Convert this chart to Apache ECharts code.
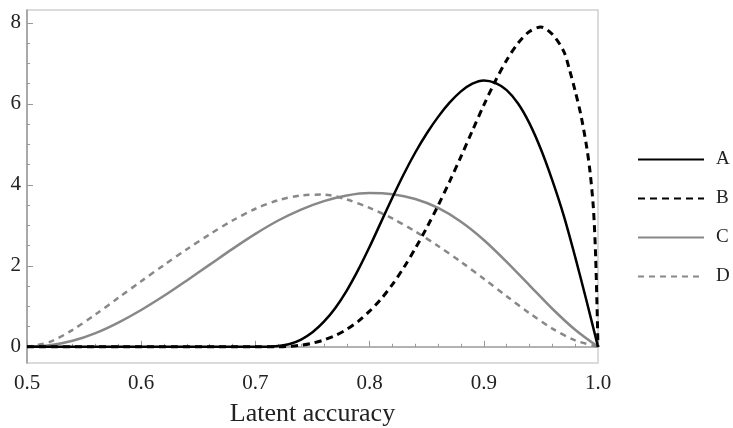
<!DOCTYPE html>
<html>
<head>
<meta charset="utf-8">
<script src="https://cdn.jsdelivr.net/npm/echarts@6/dist/echarts.min.js"></script>
<style>
  html, body { margin: 0; padding: 0; background: #fff; }
  #chartData { width: 733px; height: 428px; }
</style>
</head>
<body>
<div id="chartData"></div>
<script>
// 数据
var xA = [0.5, 0.6, 0.7, 0.71, 0.72, 0.73, 0.74, 0.75, 0.76, 0.77, 0.78, 0.79, 0.80, 0.81, 0.82, 0.83, 0.84, 0.85,
          0.86, 0.87, 0.88, 0.89, 0.90, 0.91, 0.92, 0.93, 0.94, 0.95, 0.96, 0.97, 0.98, 0.99, 1.0];
var yA = [0, 0, 0, 0, 0.02, 0.07, 0.18, 0.36, 0.62, 0.96, 1.39, 1.90, 2.47, 3.08, 3.69, 4.27, 4.80, 5.27,
          5.68, 6.03, 6.31, 6.50, 6.58, 6.52, 6.34, 6.01, 5.52, 4.88, 4.11, 3.24, 2.22, 1.13, 0];

var xB = [0.5, 0.6, 0.7, 0.72, 0.73, 0.74, 0.75, 0.76, 0.77, 0.78, 0.79, 0.80, 0.81, 0.82, 0.83, 0.84, 0.85,
          0.86, 0.87, 0.88, 0.89, 0.90, 0.91, 0.92, 0.93, 0.94, 0.95, 0.96, 0.97, 0.975, 0.98, 0.985, 0.99,
          0.993, 0.996, 0.998, 1.0];
var yB = [0, 0, 0, 0, 0.01, 0.04, 0.09, 0.17, 0.28, 0.43, 0.63, 0.88, 1.18, 1.54, 1.96, 2.43, 2.94,
          3.49, 4.08, 4.70, 5.34, 5.97, 6.56, 7.08, 7.50, 7.79, 7.90, 7.72, 7.30, 6.85, 6.32, 5.73, 4.95,
          4.33, 3.41, 2.18, 0];

var xCD = [0.50, 0.52, 0.54, 0.56, 0.58, 0.60, 0.62, 0.64, 0.66, 0.68, 0.70, 0.72, 0.74,
           0.76, 0.78, 0.80, 0.82, 0.84, 0.86, 0.88, 0.90, 0.92, 0.94, 0.96, 0.98, 1.00];
var yC = [0, 0.04, 0.15, 0.34, 0.60, 0.91, 1.26, 1.64, 2.03, 2.42, 2.79, 3.12, 3.39,
          3.60, 3.74, 3.80, 3.77, 3.65, 3.43, 3.09, 2.64, 2.10, 1.52, 0.94, 0.42, 0];
var yD = [0, 0.12, 0.42, 0.80, 1.21, 1.62, 2.02, 2.41, 2.78, 3.12, 3.41, 3.62, 3.74,
          3.76, 3.64, 3.43, 3.17, 2.85, 2.49, 2.10, 1.68, 1.25, 0.83, 0.45, 0.16, 0];

var names = ['A', 'B', 'C', 'D'];
var xMajor = [0.5, 0.6, 0.7, 0.8, 0.9, 1.0];
var xMinor = [0.52, 0.54, 0.56, 0.58, 0.62, 0.64, 0.66, 0.68, 0.72, 0.74, 0.76, 0.78,
              0.82, 0.84, 0.86, 0.88, 0.92, 0.94, 0.96, 0.98];
var yMajor = [0, 2, 4, 6, 8];
var yMinor = [0.5, 1, 1.5, 2.5, 3, 3.5, 4.5, 5, 5.5, 6.5, 7, 7.5];

function pairs(xs, ys) {
    var out = [];
    for (var i = 0; i < xs.length; i++) out.push([xs[i], ys[i]]);
    return out;
}

var font = '"Liberation Serif", "DejaVu Serif", serif';
var axisGray = '#999';

var myChart = echarts.init(document.getElementById('chartData'));

var option = {
    backgroundColor: '#fff',
    animation: false,
    grid: {
        left: 27, right: 135, top: 10, bottom: 65,
        containLabel: false, outerBoundsMode: 'none',
        show: true, borderColor: '#d0d0d0', borderWidth: 1.5
    },
    legend: {
        data: names,
        orient: 'vertical',
        left: 637, top: 150, padding: 0,
        itemWidth: 66, itemHeight: 14, itemGap: 20,
        itemStyle: { opacity: 0 },
        textStyle: { fontFamily: font, fontSize: 19, color: '#222', padding: [0, 0, 0, 7] }
    },
    xAxis: [{
        type: 'value', min: 0.5, max: 1.0,
        name: 'Latent accuracy', nameLocation: 'middle', nameGap: 38,
        nameTextStyle: { fontFamily: font, fontSize: 26, color: '#222' },
        axisLine: { lineStyle: { color: axisGray, width: 1.5 } },
        axisTick: { customValues: xMajor, inside: true, length: 6, lineStyle: { color: axisGray } },
        axisLabel: { customValues: xMajor, margin: 10, fontFamily: font, fontSize: 21, color: '#222',
                     formatter: function (v) { return v.toFixed(1); } },
        splitLine: { show: false }
    }, {
        type: 'value', min: 0.5, max: 1.0, position: 'bottom',
        axisLine: { show: false },
        axisTick: { customValues: xMinor, inside: true, length: 3, lineStyle: { color: axisGray } },
        axisLabel: { show: false },
        splitLine: { show: false }
    }],
    yAxis: [{
        type: 'value', min: -0.4, max: 8.32,
        axisLine: { show: true, lineStyle: { color: axisGray, width: 1.5 } },
        axisTick: { show: true, customValues: yMajor, inside: true, length: 6, lineStyle: { color: axisGray } },
        axisLabel: { customValues: yMajor, margin: 6, fontFamily: font, fontSize: 21, color: '#222' },
        splitLine: { show: false }
    }, {
        type: 'value', min: -0.4, max: 8.32, position: 'left',
        axisLine: { show: false },
        axisTick: { show: true, customValues: yMinor, inside: true, length: 3, lineStyle: { color: axisGray } },
        axisLabel: { show: false },
        splitLine: { show: false }
    }],
    series: [{
        name: 'C', type: 'line', smooth: 0.3, symbol: 'none',
        lineStyle: { color: '#888', width: 2.5 }, itemStyle: { color: '#888' },
        data: pairs(xCD, yC)
    }, {
        name: 'D', type: 'line', smooth: 0.3, symbol: 'none',
        lineStyle: { color: '#888', width: 2.5, type: [6, 5] }, itemStyle: { color: '#888' },
        data: pairs(xCD, yD)
    }, {
        name: 'A', type: 'line', smooth: 0.3, symbol: 'none',
        lineStyle: { color: '#000', width: 2.5 }, itemStyle: { color: '#000' },
        data: pairs(xA, yA)
    }, {
        name: 'B', type: 'line', smooth: 0.3, symbol: 'none',
        lineStyle: { color: '#000', width: 3, type: [7, 5] }, itemStyle: { color: '#000' },
        data: pairs(xB, yB)
    }]
};

myChart.setOption(option);
</script>
</body>
</html>
